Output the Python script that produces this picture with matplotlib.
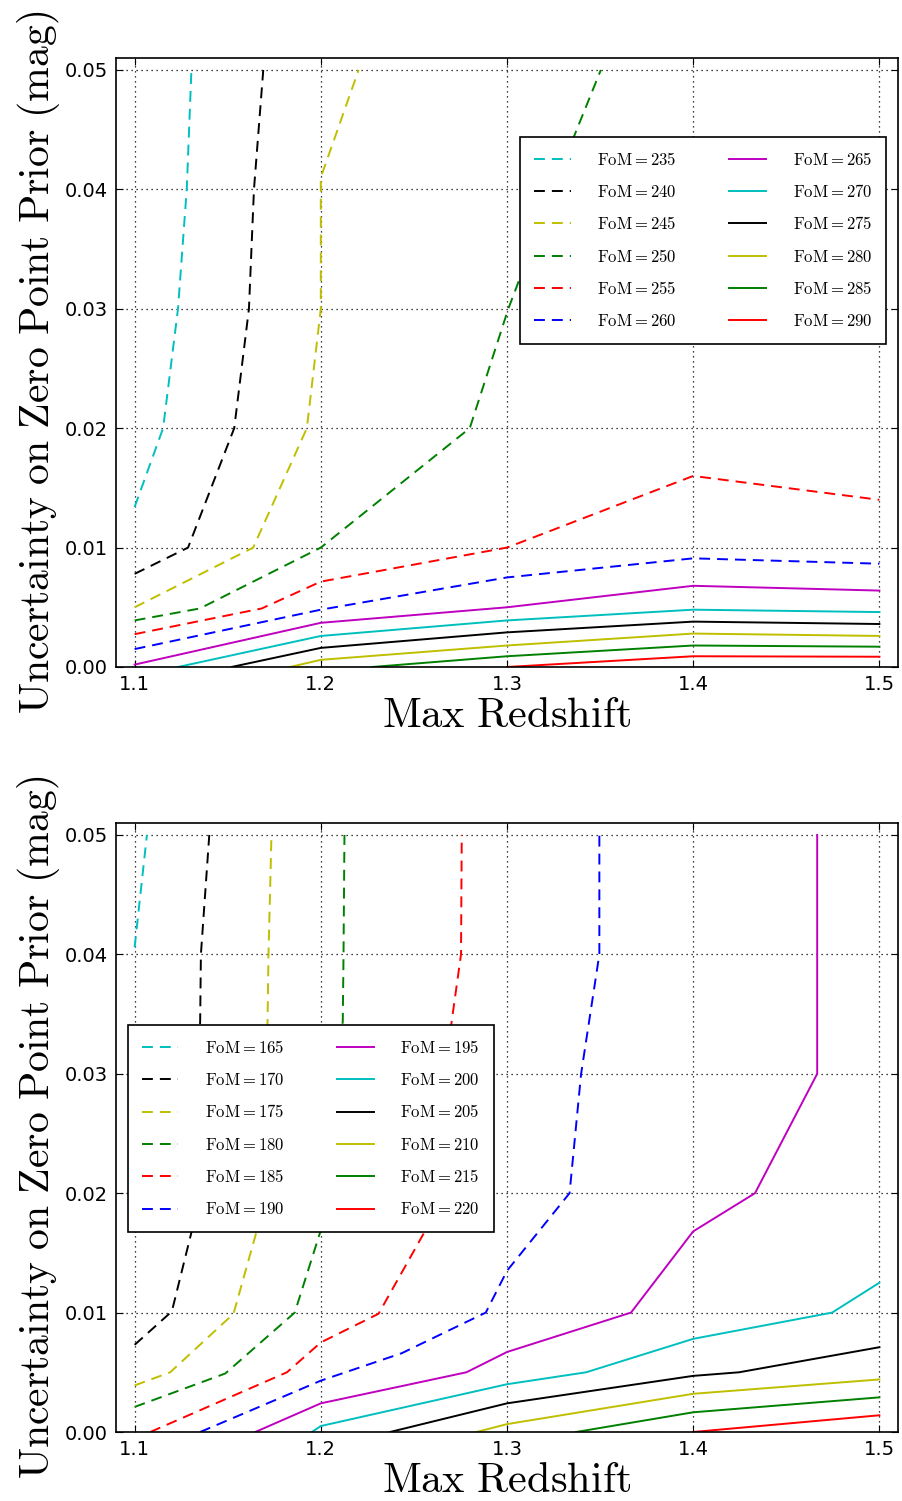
import matplotlib
matplotlib.use("Agg")
import matplotlib.pyplot as plt

plt.rcParams['mathtext.fontset'] = 'cm'
plt.rcParams['font.family'] = ['DejaVu Sans']

# ---------------- data ----------------
top_fom = [235, 240, 245, 250, 255, 260, 265, 270, 275, 280, 285, 290]
top_x = [
    [1.1, 1.1153, 1.1233, 1.128, 1.1305],
    [1.1, 1.1287, 1.1535, 1.1614, 1.1641, 1.1691],
    [1.1, 1.1637, 1.1925, 1.2, 1.2, 1.2203],
    [1.1, 1.135, 1.2, 1.28, 1.3007, 1.325, 1.3359, 1.3504],
    [1.1, 1.1682, 1.2, 1.3, 1.4, 1.5],
    [1.1, 1.2, 1.3, 1.4, 1.5],
    [1.1, 1.2, 1.3, 1.4, 1.5],
    [1.1233, 1.2, 1.3, 1.4, 1.5],
    [1.152, 1.2, 1.3, 1.4, 1.5],
    [1.1835, 1.2, 1.3, 1.4, 1.5],
    [1.2275, 1.3, 1.4, 1.5],
    [1.3, 1.4, 1.5],
]
top_y = [
    [0.0134, 0.02, 0.03, 0.04, 0.05],
    [0.0078, 0.01, 0.02, 0.03, 0.04, 0.05],
    [0.005, 0.01, 0.02, 0.03, 0.041, 0.05],
    [0.0039, 0.0049, 0.01, 0.02, 0.03, 0.04, 0.0444, 0.05],
    [0.00275, 0.0049, 0.00715, 0.01, 0.016, 0.014],
    [0.0015, 0.0048, 0.0075, 0.0091, 0.00865],
    [0.0002, 0.0037, 0.0050, 0.0068, 0.0064],
    [0.0, 0.0026, 0.0039, 0.0048, 0.0046],
    [0.0, 0.0016, 0.0029, 0.0038, 0.0036],
    [0.0, 0.0006, 0.0018, 0.0028, 0.0026],
    [0.0, 0.0009, 0.0018, 0.0017],
    [0.0, 0.0009, 0.00086],
]

bot_fom = [165, 170, 175, 180, 185, 190, 195, 200, 205, 210, 215, 220]
bot_x = [
    [1.1, 1.1066],
    [1.1, 1.12, 1.1308, 1.1352, 1.1356, 1.1401],
    [1.1, 1.1191, 1.1531, 1.1657, 1.1714, 1.1719, 1.1735],
    [1.1, 1.1487, 1.186, 1.2, 1.2118, 1.2122, 1.2127],
    [1.1084, 1.1818, 1.2, 1.231, 1.2559, 1.2703, 1.2753, 1.2757],
    [1.1352, 1.2, 1.2435, 1.2886, 1.3, 1.3336, 1.3398, 1.3496, 1.3496],
    [1.1648, 1.2, 1.2782, 1.3, 1.3666, 1.4, 1.4332, 1.4666, 1.4666],
    [1.1952, 1.2, 1.3, 1.3425, 1.4, 1.4746, 1.5],
    [1.2372, 1.3, 1.4, 1.4246, 1.5],
    [1.2836, 1.3, 1.4, 1.5],
    [1.3371, 1.4, 1.5],
    [1.4, 1.5],
]
bot_y = [
    [0.0406, 0.05],
    [0.0073, 0.0101, 0.0169, 0.0344, 0.04, 0.05],
    [0.0039, 0.005, 0.0099, 0.0169, 0.0344, 0.04, 0.05],
    [0.0021, 0.0049, 0.01, 0.0169, 0.0344, 0.04, 0.05],
    [0.0, 0.005, 0.0075, 0.0099, 0.0168, 0.0344, 0.04, 0.05],
    [0.0, 0.0043, 0.0066, 0.01, 0.0135, 0.02, 0.03, 0.04, 0.05],
    [0.0, 0.0024, 0.005, 0.0067, 0.01, 0.0168, 0.02, 0.03, 0.05],
    [0.0, 0.0005, 0.004, 0.005, 0.0078, 0.01, 0.0125],
    [0.0, 0.0024, 0.0047, 0.005, 0.0071],
    [0.0, 0.00066, 0.0032, 0.0044],
    [0.0, 0.00165, 0.0029],
    [0.0, 0.0014],
]

x_ticks = [1.1, 1.2, 1.3, 1.4, 1.5]
y_ticks = [0.00, 0.01, 0.02, 0.03, 0.04, 0.05]

# ---------------- style ----------------
cols = [(0, 0.75, 0.75), 'k', (0.75, 0.75, 0), (0, 0.5, 0), (1, 0, 0), (0, 0, 1),
        (0.75, 0, 0.75), (0, 0.75, 0.75), 'k', (0.75, 0.75, 0), (0, 0.5, 0), (1, 0, 0)]

fig = plt.figure(figsize=(9.03, 15.01), dpi=100)
ax_top = fig.add_axes([116 / 903, 1 - 667 / 1501, 782 / 903, 609 / 1501])
ax_bot = fig.add_axes([116 / 903, 1 - 1432 / 1501, 782 / 903, 609 / 1501])


def draw(ax, foms, xs, ys, legend_loc, anchor):
    for i, (f, x, y) in enumerate(zip(foms, xs, ys)):
        kw = dict(color=cols[i], lw=1.4, label=r'$\mathrm{FoM}=%d$' % f)
        if i < 6:
            ax.plot(x, y, dashes=(5.6, 3.6), **kw)
        else:
            ax.plot(x, y, '-', **kw)
    ax.set_xlim(1.09, 1.51)
    ax.set_ylim(0, 0.051)
    ax.set_xticks(x_ticks)
    ax.set_xticklabels(['%.1f' % t for t in x_ticks])
    ax.set_yticks(y_ticks)
    ax.set_yticklabels(['%.2f' % t for t in y_ticks])
    ax.tick_params(direction='in', top=True, right=True, length=5, width=0.8,
                   labelsize=14, pad=6)
    ax.grid(True, color='k', linestyle=(0, (1, 3)), linewidth=0.9)
    for s in ax.spines.values():
        s.set_linewidth(1.2)
    ax.set_xlabel(r'$\mathrm{Max\ Redshift}$', fontsize=30.5, labelpad=0)
    ax.set_ylabel(r'$\mathrm{Uncertainty\ on\ Zero\ Point\ Prior\ (mag)}$',
                  fontsize=30, labelpad=2)
    leg = ax.legend(loc=legend_loc, bbox_to_anchor=anchor, ncol=2,
                    prop={'size': 12}, handlelength=2.2, handletextpad=1.6,
                    columnspacing=3.15, labelspacing=0.86, borderpad=0.82,
                    borderaxespad=0, fancybox=False, framealpha=1)
    leg.get_frame().set_edgecolor('k')
    leg.get_frame().set_linewidth(1.2)


draw(ax_top, top_fom, top_x, top_y, 'upper right', (0.9847, 0.8703))
draw(ax_bot, bot_fom, bot_x, bot_y, 'upper left', (0.0153, 0.6683))

fig.savefig('out.png', dpi=100)
